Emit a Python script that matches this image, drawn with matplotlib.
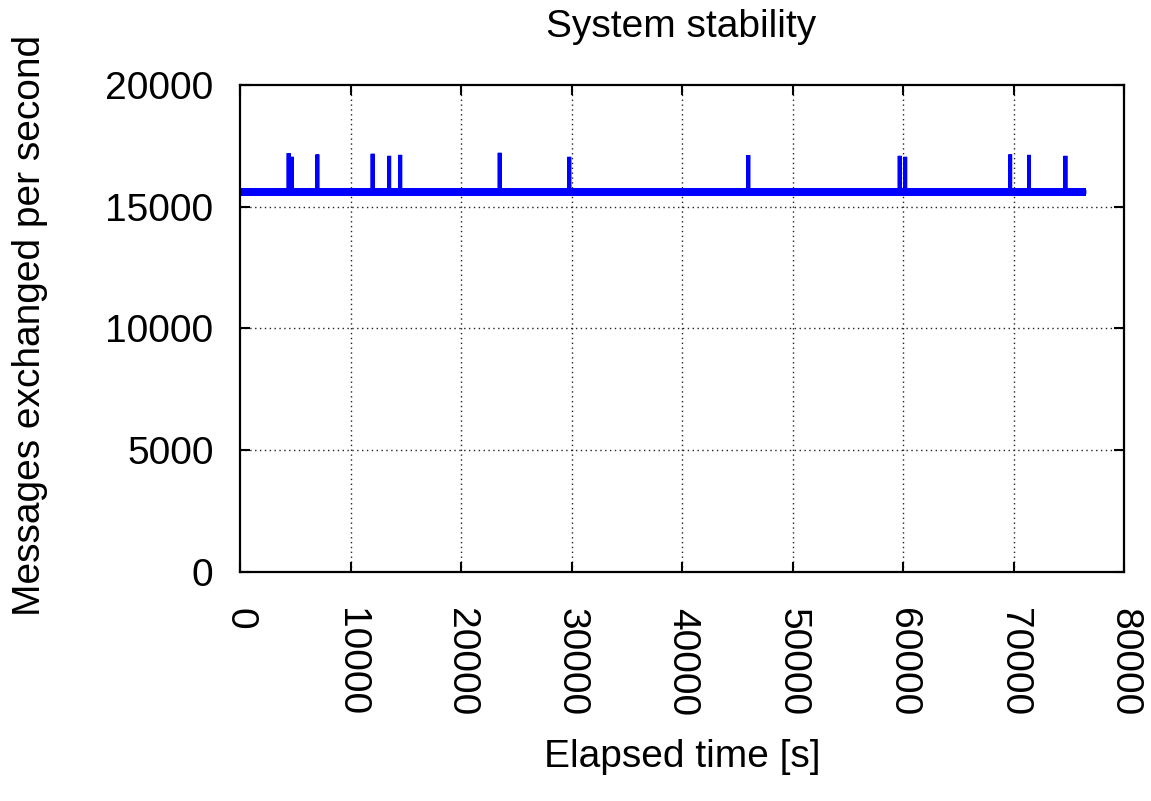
import matplotlib
matplotlib.use("Agg")
import matplotlib.pyplot as plt
import numpy as np

plt.rcParams['font.family'] = ['Liberation Sans', 'DejaVu Sans']

# Valeurs
spike_times = [4400, 4700, 7000, 12000, 13500, 14500, 23500, 29800,
               46000, 59700, 60200, 69700, 71400, 74700]
spike_peaks = [17200, 17050, 17145, 17175, 17090, 17130, 17215, 17050,
               17120, 17090, 17050, 17145, 17130, 17090]
baseline_mean = 15606
baseline_low = 15450
baseline_high = 15760
t_end = 76600

x_ticks = [0, 10000, 20000, 30000, 40000, 50000, 60000, 70000, 80000]
y_ticks = [0, 5000, 10000, 15000, 20000]

# Serie : ligne de base avec pics ponctuels
times = [0]
values = [baseline_mean]
for t, p in zip(spike_times, spike_peaks):
    times += [t - 1, t, t + 1]
    values += [baseline_mean, p, baseline_mean]
times.append(t_end)
values.append(baseline_mean)

fig = plt.figure(figsize=(11.51, 8.01), dpi=100)
ax = fig.add_axes([240 / 1151, 1 - 572 / 801, 884 / 1151, 487 / 801])

blue = '#0000ff'
ax.fill_between([0, t_end], baseline_low, baseline_high, color=blue, linewidth=0)
ax.plot(times, values, color=blue, linewidth=2.8, solid_joinstyle='bevel',
        solid_capstyle='butt')

ax.set_xlim(0, 80000)
ax.set_ylim(0, 20000)
ax.set_xticks(x_ticks)
ax.set_yticks(y_ticks)
ax.set_xticklabels([str(v) for v in x_ticks], rotation=270)

ax.tick_params(axis='both', direction='in', length=7.5, width=1.5,
               labelsize=28, top=True, right=True)
ax.tick_params(axis='x', pad=26)
ax.tick_params(axis='y', pad=19)
for s in ax.spines.values():
    s.set_linewidth(1.6)

# grille pointillée, sauf aux bords
for v in x_ticks[1:-1]:
    ax.axvline(v, color='#222222', linewidth=1, linestyle=(0, (1, 2.5)), zorder=0)
for v in y_ticks[1:-1]:
    ax.axhline(v, color='#222222', linewidth=1, linestyle=(0, (1, 2.5)), zorder=0)

fig.text(681 / 1151, 1 - 37 / 801, "System stability", fontsize=28,
         ha='center', va='baseline')
fig.text(682 / 1151, 1 - 767 / 801, "Elapsed time [s]", fontsize=28,
         ha='center', va='baseline')
fig.text(40 / 1151, 1 - 325 / 801, "Messages exchanged per second", fontsize=28,
         rotation=90, rotation_mode='anchor', ha='center', va='baseline')

fig.savefig("out.png", dpi=100)
